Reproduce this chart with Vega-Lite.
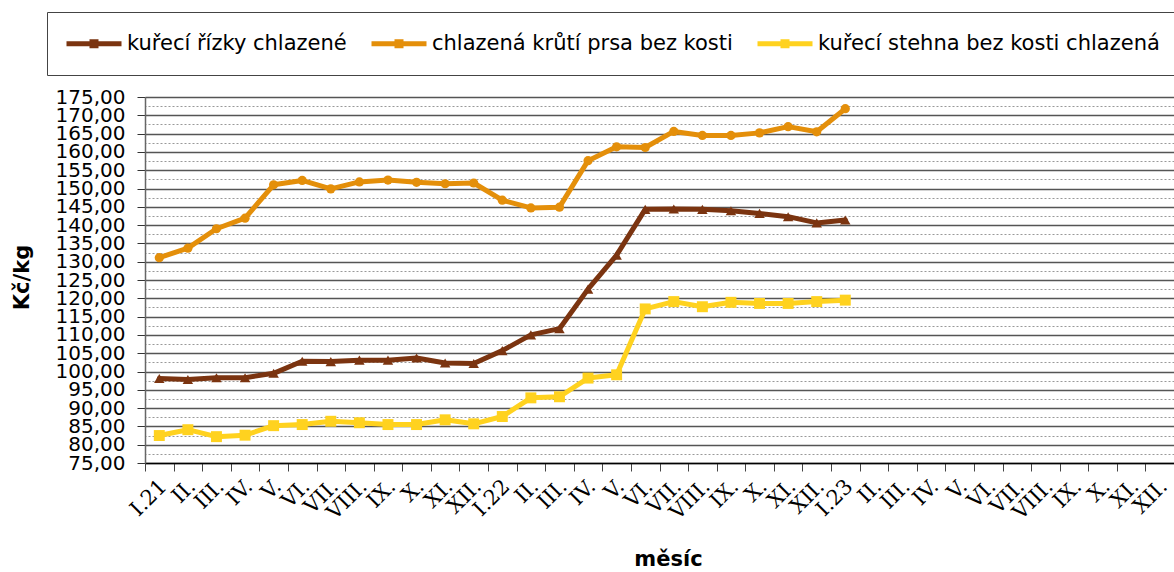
{
  "$schema": "https://vega.github.io/schema/vega-lite/v6.json",
  "width": 1029,
  "height": 366,
  "autosize": {"type": "none"},
  "padding": {"left": 145, "top": 97, "right": 0, "bottom": 109},
  "background": "white",
  "config": {
    "font": "DejaVu Sans",
    "view": {"stroke": null},
    "axis": {"labelColor": "#000", "titleColor": "#000"}
  },
  "data": {
    "values": [
      {"k": 0, "s": "kuřecí řízky chlazené", "v": 98.1},
      {"k": 1, "s": "kuřecí řízky chlazené", "v": 97.8},
      {"k": 2, "s": "kuřecí řízky chlazené", "v": 98.3},
      {"k": 3, "s": "kuřecí řízky chlazené", "v": 98.3},
      {"k": 4, "s": "kuřecí řízky chlazené", "v": 99.5},
      {"k": 5, "s": "kuřecí řízky chlazené", "v": 102.8},
      {"k": 6, "s": "kuřecí řízky chlazené", "v": 102.7},
      {"k": 7, "s": "kuřecí řízky chlazené", "v": 103.1},
      {"k": 8, "s": "kuřecí řízky chlazené", "v": 103.1},
      {"k": 9, "s": "kuřecí řízky chlazené", "v": 103.7},
      {"k": 10, "s": "kuřecí řízky chlazené", "v": 102.3},
      {"k": 11, "s": "kuřecí řízky chlazené", "v": 102.2},
      {"k": 12, "s": "kuřecí řízky chlazené", "v": 105.7},
      {"k": 13, "s": "kuřecí řízky chlazené", "v": 110.0},
      {"k": 14, "s": "kuřecí řízky chlazené", "v": 111.7},
      {"k": 15, "s": "kuřecí řízky chlazené", "v": 122.5},
      {"k": 16, "s": "kuřecí řízky chlazené", "v": 131.8},
      {"k": 17, "s": "kuřecí řízky chlazené", "v": 144.3},
      {"k": 18, "s": "kuřecí řízky chlazené", "v": 144.4},
      {"k": 19, "s": "kuřecí řízky chlazené", "v": 144.3},
      {"k": 20, "s": "kuřecí řízky chlazené", "v": 143.9},
      {"k": 21, "s": "kuřecí řízky chlazené", "v": 143.2},
      {"k": 22, "s": "kuřecí řízky chlazené", "v": 142.3},
      {"k": 23, "s": "kuřecí řízky chlazené", "v": 140.6},
      {"k": 24, "s": "kuřecí řízky chlazené", "v": 141.4},
      {"k": 0, "s": "chlazená krůtí prsa bez kosti", "v": 131.1},
      {"k": 1, "s": "chlazená krůtí prsa bez kosti", "v": 133.7},
      {"k": 2, "s": "chlazená krůtí prsa bez kosti", "v": 139.0},
      {"k": 3, "s": "chlazená krůtí prsa bez kosti", "v": 141.9},
      {"k": 4, "s": "chlazená krůtí prsa bez kosti", "v": 151.0},
      {"k": 5, "s": "chlazená krůtí prsa bez kosti", "v": 152.2},
      {"k": 6, "s": "chlazená krůtí prsa bez kosti", "v": 149.9},
      {"k": 7, "s": "chlazená krůtí prsa bez kosti", "v": 151.8},
      {"k": 8, "s": "chlazená krůtí prsa bez kosti", "v": 152.3},
      {"k": 9, "s": "chlazená krůtí prsa bez kosti", "v": 151.7},
      {"k": 10, "s": "chlazená krůtí prsa bez kosti", "v": 151.3},
      {"k": 11, "s": "chlazená krůtí prsa bez kosti", "v": 151.5},
      {"k": 12, "s": "chlazená krůtí prsa bez kosti", "v": 146.8},
      {"k": 13, "s": "chlazená krůtí prsa bez kosti", "v": 144.7},
      {"k": 14, "s": "chlazená krůtí prsa bez kosti", "v": 144.9},
      {"k": 15, "s": "chlazená krůtí prsa bez kosti", "v": 157.6},
      {"k": 16, "s": "chlazená krůtí prsa bez kosti", "v": 161.4},
      {"k": 17, "s": "chlazená krůtí prsa bez kosti", "v": 161.2},
      {"k": 18, "s": "chlazená krůtí prsa bez kosti", "v": 165.6},
      {"k": 19, "s": "chlazená krůtí prsa bez kosti", "v": 164.5},
      {"k": 20, "s": "chlazená krůtí prsa bez kosti", "v": 164.5},
      {"k": 21, "s": "chlazená krůtí prsa bez kosti", "v": 165.2},
      {"k": 22, "s": "chlazená krůtí prsa bez kosti", "v": 166.9},
      {"k": 23, "s": "chlazená krůtí prsa bez kosti", "v": 165.5},
      {"k": 24, "s": "chlazená krůtí prsa bez kosti", "v": 171.8},
      {"k": 0, "s": "kuřecí stehna bez kosti chlazená", "v": 82.5},
      {"k": 1, "s": "kuřecí stehna bez kosti chlazená", "v": 84.1},
      {"k": 2, "s": "kuřecí stehna bez kosti chlazená", "v": 82.2},
      {"k": 3, "s": "kuřecí stehna bez kosti chlazená", "v": 82.6},
      {"k": 4, "s": "kuřecí stehna bez kosti chlazená", "v": 85.2},
      {"k": 5, "s": "kuřecí stehna bez kosti chlazená", "v": 85.5},
      {"k": 6, "s": "kuřecí stehna bez kosti chlazená", "v": 86.4},
      {"k": 7, "s": "kuřecí stehna bez kosti chlazená", "v": 86.0},
      {"k": 8, "s": "kuřecí stehna bez kosti chlazená", "v": 85.5},
      {"k": 9, "s": "kuřecí stehna bez kosti chlazená", "v": 85.5},
      {"k": 10, "s": "kuřecí stehna bez kosti chlazená", "v": 86.8},
      {"k": 11, "s": "kuřecí stehna bez kosti chlazená", "v": 85.7},
      {"k": 12, "s": "kuřecí stehna bez kosti chlazená", "v": 87.7},
      {"k": 13, "s": "kuřecí stehna bez kosti chlazená", "v": 92.8},
      {"k": 14, "s": "kuřecí stehna bez kosti chlazená", "v": 93.1},
      {"k": 15, "s": "kuřecí stehna bez kosti chlazená", "v": 98.2},
      {"k": 16, "s": "kuřecí stehna bez kosti chlazená", "v": 99.1},
      {"k": 17, "s": "kuřecí stehna bez kosti chlazená", "v": 117.1},
      {"k": 18, "s": "kuřecí stehna bez kosti chlazená", "v": 119.1},
      {"k": 19, "s": "kuřecí stehna bez kosti chlazená", "v": 117.7},
      {"k": 20, "s": "kuřecí stehna bez kosti chlazená", "v": 118.9},
      {"k": 21, "s": "kuřecí stehna bez kosti chlazená", "v": 118.6},
      {"k": 22, "s": "kuřecí stehna bez kosti chlazená", "v": 118.6},
      {"k": 23, "s": "kuřecí stehna bez kosti chlazená", "v": 119.1},
      {"k": 24, "s": "kuřecí stehna bez kosti chlazená", "v": 119.5}
    ]
  },
  "encoding": {
    "x": {
      "field": "k",
      "type": "ordinal",
      "scale": {"domain": [0,1,2,3,4,5,6,7,8,9,10,11,12,13,14,15,16,17,18,19,20,21,22,23,24,25,26,27,28,29,30,31,32,33,34,35], "paddingInner": 0, "paddingOuter": 0},
      "axis": {
        "title": "měsíc",
        "titleFontSize": 21,
        "titleFontWeight": "bold",
        "titleX": 523,
        "titleY": 96,
        "titleBaseline": "middle",
        "titleAlign": "center",
        "labelExpr": "['I.21','II.','III.','IV.','V.','VI.','VII.','VIII.','IX.','X.','XI.','XII.','I.22','II.','III.','IV.','V.','VI.','VII.','VIII.','IX.','X.','XI.','XII.','I.23','II.','III.','IV.','V.','VI.','VII.','VIII.','IX.','X.','XI.','XII.'][datum.value]",
        "labelAngle": -45,
        "labelAlign": "right",
        "labelBaseline": "middle",
        "labelFont": "DejaVu Serif",
        "labelFontSize": 21,
        "labelPadding": 12,
        "labelOffset": 4,
        "labelOverlap": false,
        "labelBound": false,
        "tickBand": "extent",
        "tickSize": 8,
        "tickColor": "#444",
        "domainColor": "#000",
        "domainWidth": 1.5,
        "grid": false
      }
    },
    "y": {
      "field": "v",
      "type": "quantitative",
      "scale": {"domain": [75, 175], "nice": false, "zero": false}
    },
    "color": {
      "field": "s",
      "type": "nominal",
      "scale": {
        "domain": ["kuřecí řízky chlazené", "chlazená krůtí prsa bez kosti", "kuřecí stehna bez kosti chlazená"],
        "range": ["#7B3410", "#E48F0A", "#FFD21F"]
      }
    }
  },
  "layer": [
    {
      "mark": {"type": "line", "strokeWidth": 5, "strokeJoin": "round", "strokeCap": "round"},
      "encoding": {
        "y": {
          "field": "v",
          "type": "quantitative",
          "axis": {
            "title": "Kč/kg",
            "titleFontSize": 21,
            "titleFontWeight": "bold",
            "titleAngle": -90,
            "titleX": -123,
            "titleY": 180,
            "titleAlign": "center",
            "titleBaseline": "middle",
            "values": [75,80,85,90,95,100,105,110,115,120,125,130,135,140,145,150,155,160,165,170,175],
            "labelExpr": "replace(format(datum.value, '.2f'), '.', ',')",
            "labelFontSize": 20,
            "labelPadding": 12,
            "labelOverlap": false,
            "tickSize": 8,
            "tickColor": "#333",
            "domainColor": "#666",
            "domainWidth": 1.5,
            "grid": true,
            "gridColor": "#555",
            "gridWidth": 1.5
          }
        },
        "color": {
          "field": "s",
          "type": "nominal",
          "legend": {
            "title": null,
            "orient": "none",
            "legendX": -98,
            "legendY": -85,
            "direction": "horizontal",
            "padding": 21,
            "strokeColor": "#444",
            "fillColor": "white",
            "labelFontSize": 21,
            "labelOffset": 38,
            "columnPadding": 24,
            "labelLimit": 1000,
            "symbolSize": 100,
            "symbolType": "M-2.4,-0.5L8.6,-0.5L8.6,0.5L-2.4,0.5Z M2.2,-0.9L4,-0.9L4,0.9L2.2,0.9Z",
            "encode": {
              "symbols": {"update": {
                "fill": {"scale": "color", "field": "value"},
                "stroke": {"value": "transparent"},
                "strokeWidth": {"value": 0},
                "shape": {"value": "M-2.4,-0.5L8.6,-0.5L8.6,0.5L-2.4,0.5Z M2.2,-0.9L4,-0.9L4,0.9L2.2,0.9Z"},
                "size": {"value": 100}
              }}
            }
          }
        }
      }
    },
    {
      "transform": [{"filter": "datum.s === 'kuřecí řízky chlazené'"}],
      "mark": {"type": "point", "filled": true, "opacity": 1, "shape": "triangle-up", "size": 110},
      "encoding": {
        "y": {
          "field": "v",
          "type": "quantitative",
          "axis": {
            "orient": "right",
            "title": null,
            "labels": false,
            "ticks": false,
            "domain": false,
            "grid": true,
            "gridColor": "#999",
            "gridDash": [2, 2],
            "gridWidth": 1,
            "values": [77.5,82.5,87.5,92.5,97.5,102.5,107.5,112.5,117.5,122.5,127.5,132.5,137.5,142.5,147.5,152.5,157.5,162.5,167.5,172.5]
          }
        },
        "color": {"field": "s", "type": "nominal", "legend": null}
      }
    },
    {
      "transform": [{"filter": "datum.s === 'chlazená krůtí prsa bez kosti'"}],
      "mark": {"type": "point", "filled": true, "opacity": 1, "shape": "circle", "size": 85},
      "encoding": {
        "y": {"field": "v", "type": "quantitative", "axis": null},
        "color": {"field": "s", "type": "nominal", "legend": null}
      }
    },
    {
      "transform": [{"filter": "datum.s === 'kuřecí stehna bez kosti chlazená'"}],
      "mark": {"type": "point", "filled": true, "opacity": 1, "shape": "square", "size": 120},
      "encoding": {
        "y": {"field": "v", "type": "quantitative", "axis": null},
        "color": {"field": "s", "type": "nominal", "legend": null}
      }
    }
  ],
  "resolve": {"axis": {"y": "independent"}}
}
